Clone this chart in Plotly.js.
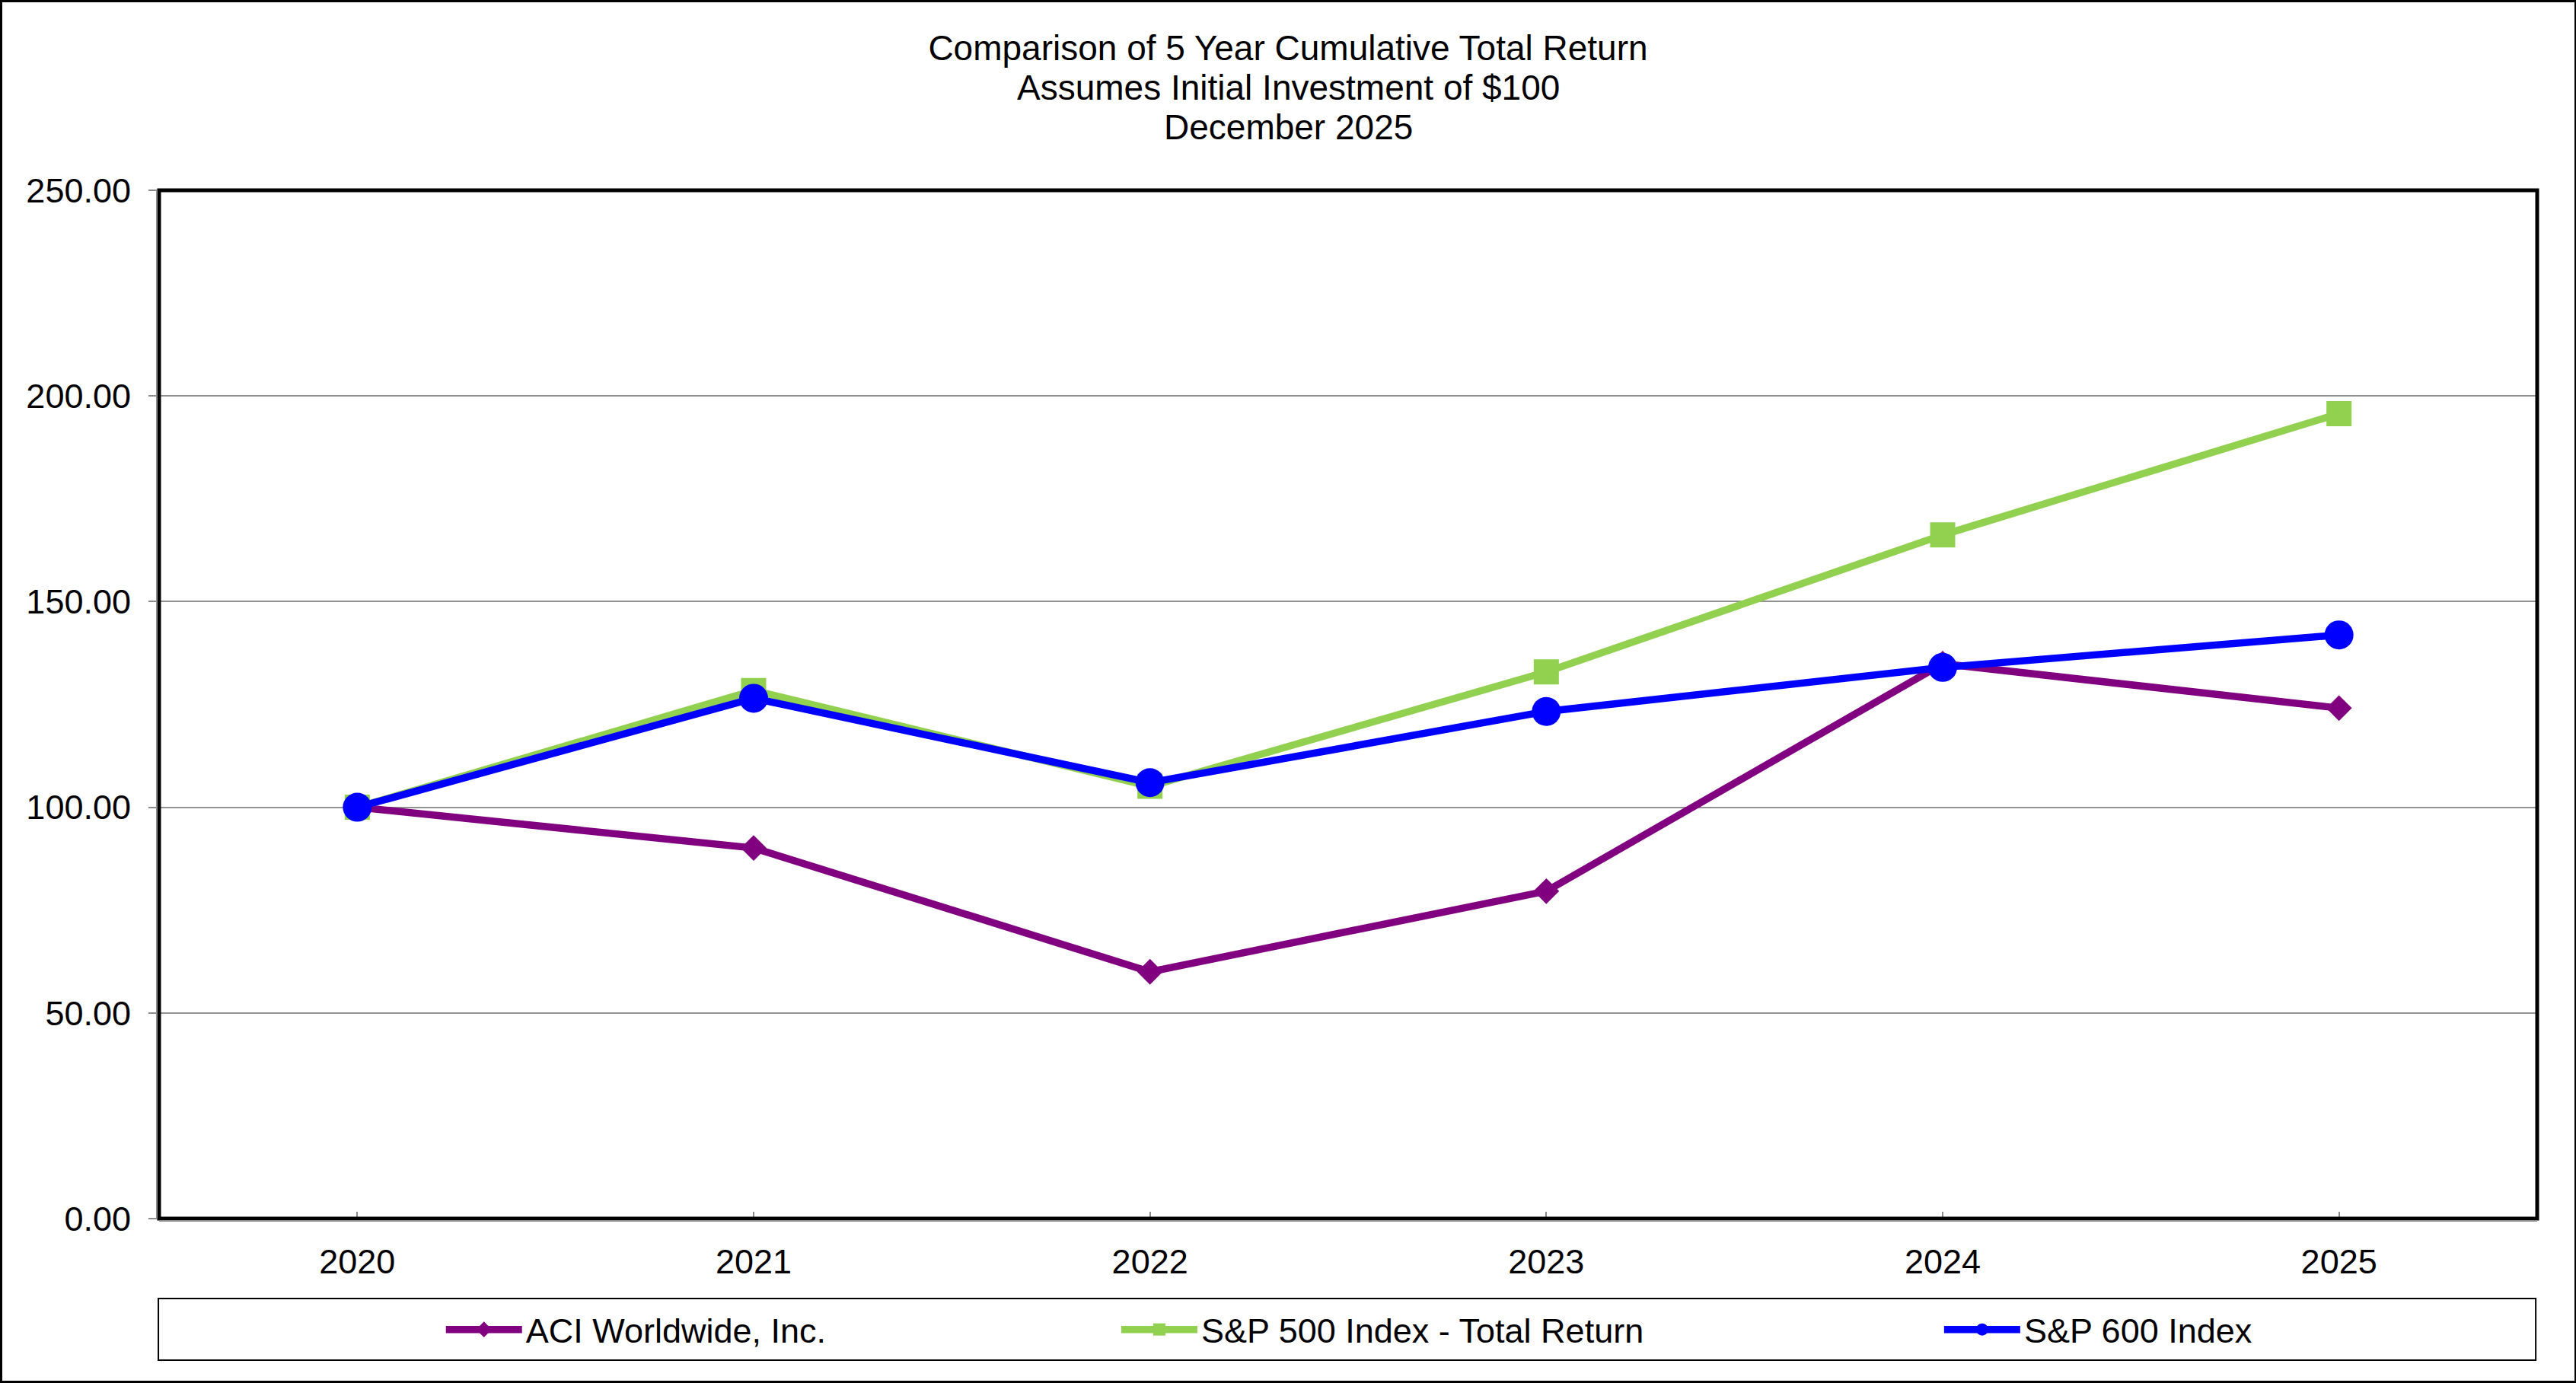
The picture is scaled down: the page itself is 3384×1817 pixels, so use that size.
<!DOCTYPE html>
<html>
<head>
<meta charset="utf-8">
<script src="https://cdn.plot.ly/plotly-3.0.1.min.js"></script>
<style>html,body{margin:0;padding:0;background:#fff;}#chart{width:3384px;height:1817px;}</style>
</head>
<body>
<div id="chart"></div>
<script>
const years = ['2020', '2021', '2022', '2023', '2024', '2025'];
const aciWorldwide = [100.00, 90.10, 60.00, 79.60, 134.90, 124.10];
const sp500Total = [100.00, 128.40, 105.10, 132.90, 166.20, 195.70];
const sp600 = [100.00, 126.50, 106.00, 123.30, 134.00, 141.90];
const seriesNames = ['ACI Worldwide, Inc.', 'S&P 500 Index - Total Return', 'S&P 600 Index'];
const yTicks = [0, 50, 100, 150, 200, 250];
const titleLines = ['Comparison of 5 Year Cumulative Total Return', 'Assumes Initial Investment of $100', 'December 2025'];

const FONT = 'Liberation Sans, Arial, sans-serif';

const traces = [
  {x: years, y: aciWorldwide, name: seriesNames[0], type: 'scatter', mode: 'lines+markers',
   line: {color: '#800080', width: 9.5}, marker: {symbol: 'diamond', size: 26, color: '#800080'}, legend: 'legend'},
  {x: years, y: sp500Total, name: seriesNames[1], type: 'scatter', mode: 'lines+markers',
   line: {color: '#92D050', width: 9.5}, marker: {symbol: 'square', size: 33, color: '#92D050'}, legend: 'legend2'},
  {x: years, y: sp600, name: seriesNames[2], type: 'scatter', mode: 'lines+markers',
   line: {color: '#0000FF', width: 9.5}, marker: {symbol: 'circle', size: 38, color: '#0000FF'}, legend: 'legend3'}
];

const legendBase = {orientation: 'h', yref: 'paper', y: -0.108, yanchor: 'middle', xanchor: 'left',
  bgcolor: 'rgba(0,0,0,0)', borderwidth: 0, itemwidth: 100, font: {family: FONT, size: 45, color: '#000'}};

const titleCenterPaper = (1692 - 209) / 3124;

const layout = {
  width: 3384, height: 1817,
  paper_bgcolor: '#fff', plot_bgcolor: '#fff',
  margin: {l: 209, r: 51, t: 250, b: 216, pad: 0},
  font: {family: FONT, size: 45, color: '#000'},
  title: {text: titleLines[0], font: {family: FONT, size: 46, color: '#000'},
    x: 0.5, xanchor: 'center', xref: 'container', y: 1 - 63 / 1817, yref: 'container', yanchor: 'middle'},
  annotations: [
    {text: titleLines[1], xref: 'paper', yref: 'paper', x: titleCenterPaper, y: 1 + (250 - 115) / 1351, xanchor: 'center', yanchor: 'middle', showarrow: false, font: {family: FONT, size: 46, color: '#000'}},
    {text: titleLines[2], xref: 'paper', yref: 'paper', x: titleCenterPaper, y: 1 + (250 - 167) / 1351, xanchor: 'center', yanchor: 'middle', showarrow: false, font: {family: FONT, size: 46, color: '#000'}}
  ],
  xaxis: {type: 'category', range: [-0.5, 5.5], showgrid: false, zeroline: false,
    ticks: 'inside', ticklen: 9, tickwidth: 2, tickcolor: '#8c8c8c', showline: false,
    tickfont: {family: FONT, size: 45, color: '#000'}, ticklabelstandoff: 26, fixedrange: true},
  yaxis: {range: [0, 250], tickvals: yTicks, ticktext: yTicks.map(v => v.toFixed(2)),
    showgrid: true, gridcolor: '#919191', gridwidth: 2, zeroline: false, showline: false,
    ticks: 'outside', ticklen: 13, tickwidth: 2, tickcolor: '#8c8c8c',
    tickfont: {family: FONT, size: 45, color: '#000'}, ticklabelstandoff: 14, fixedrange: true},
  showlegend: true,
  legend: Object.assign({}, legendBase, {x: 0.119}),
  legend2: Object.assign({}, legendBase, {x: 0.403}),
  legend3: Object.assign({}, legendBase, {x: 0.749}),
  shapes: [
    {type: 'rect', xref: 'paper', yref: 'paper', x0: 0, x1: 1, y0: 0, y1: 1, line: {color: '#000', width: 5}, layer: 'above'},
    {type: 'line', xref: 'paper', yref: 'paper', xsizemode: 'pixel', xanchor: 0, x0: -3, x1: -3, y0: 0, y1: 1, line: {color: '#8c8c8c', width: 2}, layer: 'above'},
    {type: 'line', xref: 'paper', yref: 'paper', ysizemode: 'pixel', yanchor: 0, y0: -3, y1: -3, x0: 0, x1: 1, line: {color: '#8c8c8c', width: 2}, layer: 'above'},
    {type: 'rect', xref: 'paper', yref: 'paper', ysizemode: 'pixel', yanchor: 0, y0: -105, y1: -186, x0: -0.0003, x1: 0.9994, line: {color: '#000', width: 2}},
    {type: 'rect', xref: 'paper', yref: 'paper', xsizemode: 'pixel', ysizemode: 'pixel', xanchor: 0, yanchor: 0,
     x0: -207.5, x1: 3174.5, y0: -214.5, y1: 1599.5, line: {color: '#000', width: 3}}
  ]
};

Plotly.newPlot('chart', traces, layout, {displayModeBar: false, staticPlot: true});
</script>
</body>
</html>
